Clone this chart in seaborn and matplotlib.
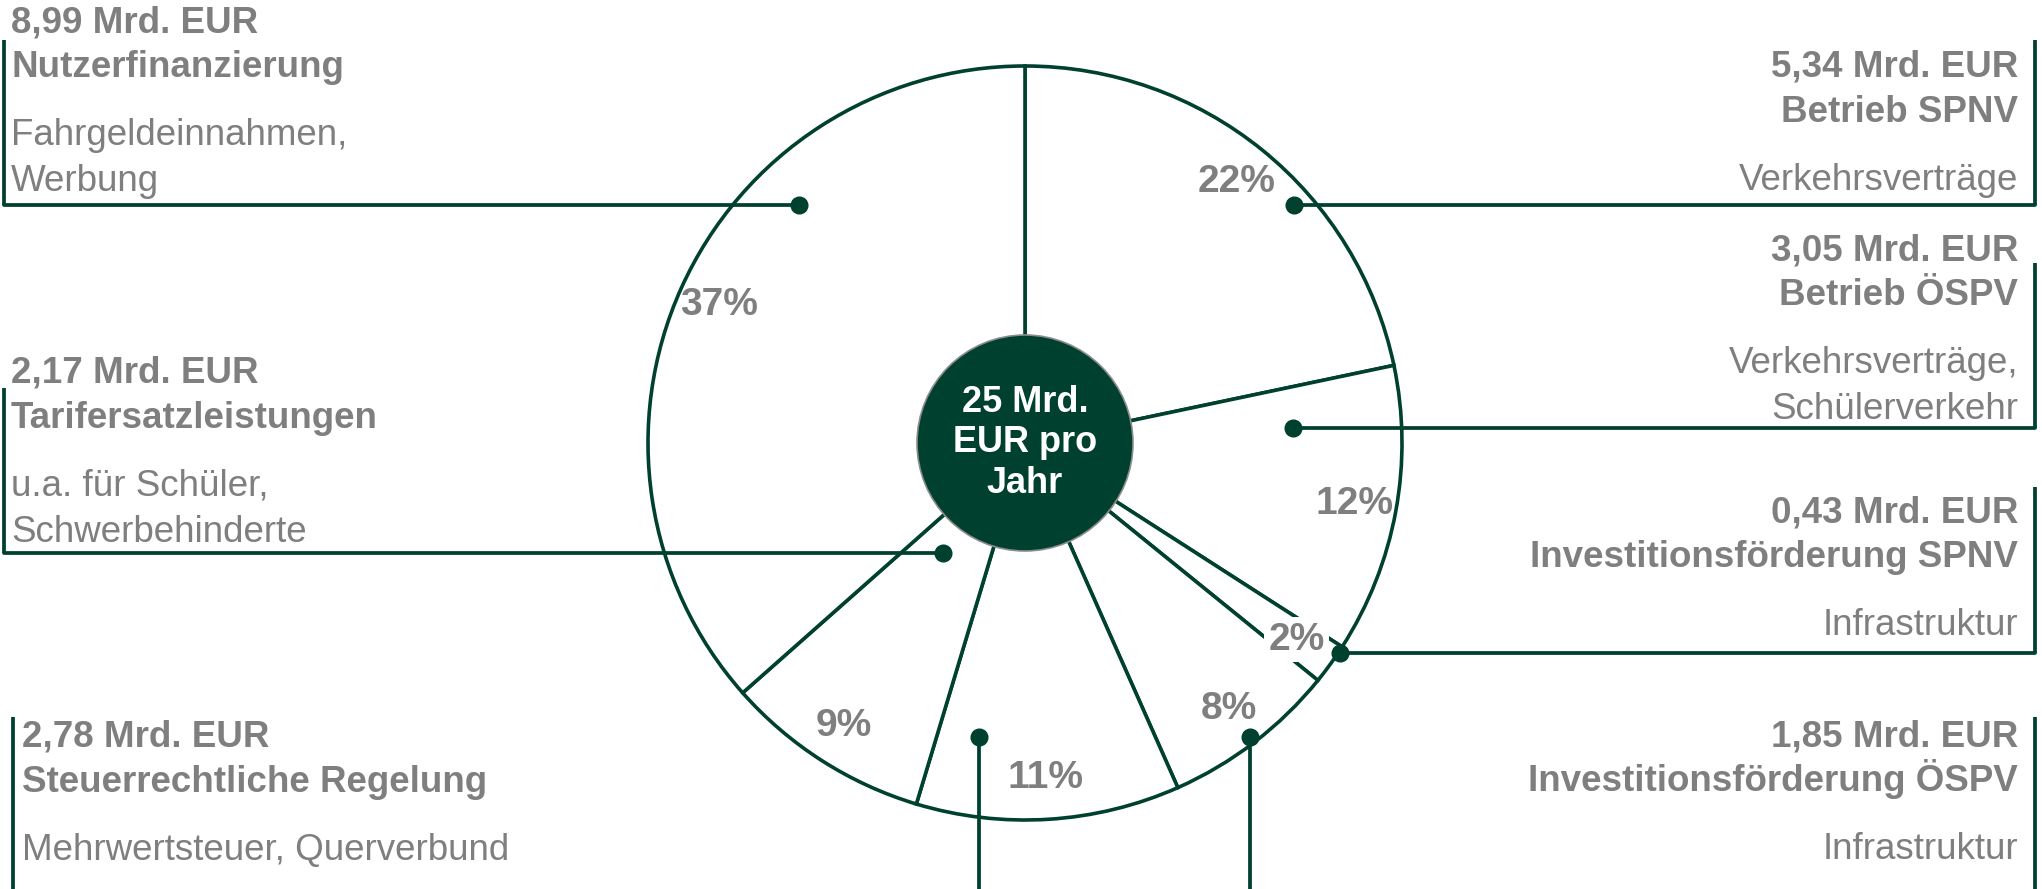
import matplotlib.pyplot as plt
import matplotlib.patches as mpatches
import seaborn as sns

# Werte (Mrd. EUR), im Uhrzeigersinn ab 12 Uhr
segments = ["Betrieb SPNV", "Betrieb ÖSPV", "Investitionsförderung SPNV",
            "Investitionsförderung ÖSPV", "Steuerrechtliche Regelung",
            "Tarifersatzleistungen", "Nutzerfinanzierung"]
values = [5.34, 3.05, 0.43, 1.85, 2.78, 2.17, 8.99]
pct_labels = ["22%", "12%", "2%", "8%", "11%", "9%", "37%"]
center_label = "25 Mrd.\nEUR pro\nJahr"

# Beschriftungsblöcke
amounts = ["8,99 Mrd. EUR", "5,34 Mrd. EUR", "3,05 Mrd. EUR", "0,43 Mrd. EUR",
           "1,85 Mrd. EUR", "2,17 Mrd. EUR", "2,78 Mrd. EUR"]
titles = ["Nutzerfinanzierung", "Betrieb SPNV", "Betrieb ÖSPV",
          "Investitionsförderung SPNV", "Investitionsförderung ÖSPV",
          "Tarifersatzleistungen", "Steuerrechtliche Regelung"]
descriptions = [["Fahrgeldeinnahmen,", "Werbung"],
                ["Verkehrsverträge"],
                ["Verkehrsverträge,", "Schülerverkehr"],
                ["Infrastruktur"],
                ["Infrastruktur"],
                ["u.a. für Schüler,", "Schwerbehinderte"],
                ["Mehrwertsteuer, Querverbund"]]

# Layout in Pixeln (x, erste Grundlinie, Ausrichtung, Klammer-x, Klammer oben, Klammer unten, Punkt)
W, H = 2042, 889
layout = [
    (11, 32, "left", 4, 40, 205, (799, 205)),
    (2018, 77, "right", 2035, 40, 205, (1294, 205)),
    (2018, 260, "right", 2035, 263, 428, (1293, 428)),
    (2018, 522, "right", 2035, 487, 653, (1340, 653)),
    (2018, 746, "right", 2035, 717, H, (1250, 737)),
    (11, 383, "left", 4, 388, 553, (943, 553)),
    (22, 747, "left", 13, 717, H, (979, 737)),
]

green = "#00402F"
grey = "#7F7F7F"

sns.set_theme(style="white")
plt.rcParams["font.family"] = ["Liberation Sans", "DejaVu Sans"]

fig = plt.figure(figsize=(W / 100, H / 100), dpi=100)
ax = fig.add_axes([0, 0, 1, 1])


def Y(py):
    return H - py


cx, cy, r = 1025, Y(443), 377
wedges, texts, autotexts = ax.pie(
    values, startangle=90, counterclock=False, center=(cx, cy), radius=r,
    autopct="%1.0f%%", pctdistance=0.89,
    wedgeprops=dict(facecolor="white", edgecolor=green, linewidth=2.6),
    textprops=dict(color=grey, fontsize=28, fontweight="bold"))
for t, lab in zip(autotexts, pct_labels):
    t.set_text(lab)
    t.set_zorder(5)
autotexts[2].set_bbox(dict(facecolor="white", edgecolor="none", pad=3))

ax.add_patch(mpatches.Circle((cx, cy), 108, facecolor=green, edgecolor="#8C8C8C",
                             linewidth=1.2, zorder=4))
ax.text(cx, cy, center_label, color="white", fontsize=26, fontweight="bold",
        ha="center", va="center", linespacing=1.2, zorder=6)

for i, (x, b0, ha, bx, btop, bbot, dot) in enumerate(layout):
    ax.text(x, Y(b0), amounts[i], color=grey, fontsize=26.5, fontweight="bold",
            ha=ha, va="baseline")
    ax.text(x, Y(b0 + 45), titles[i], color=grey, fontsize=26.5, fontweight="bold",
            ha=ha, va="baseline")
    for k, line in enumerate(descriptions[i]):
        ax.text(x, Y(b0 + 113 + 46 * k), line, color=grey, fontsize=26.5,
                ha=ha, va="baseline")
    ax.plot([bx, bx], [Y(btop), Y(bbot)], color=green, lw=2.7, solid_capstyle="butt")
    if bbot < H:
        ax.plot([bx, dot[0]], [Y(bbot), Y(dot[1])], color=green, lw=2.7, zorder=3)
    else:
        ax.plot([dot[0], dot[0]], [Y(dot[1]), Y(H)], color=green, lw=2.7, zorder=3)
    ax.plot(dot[0], Y(dot[1]), "o", color=green, markersize=12, zorder=7)

ax.set_xlim(0, W)
ax.set_ylim(0, H)
ax.set_aspect("equal")
ax.axis("off")

fig.savefig("out.png", dpi=100, facecolor="white")
